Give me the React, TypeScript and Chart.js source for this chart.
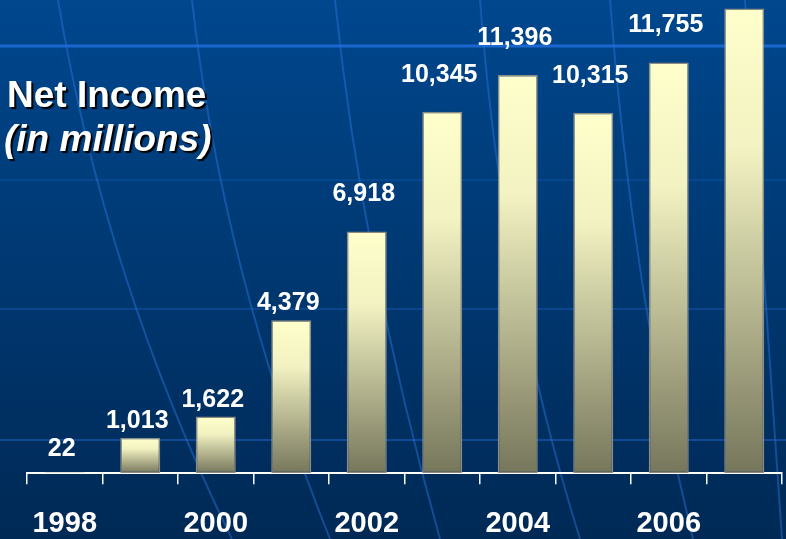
import React, { useEffect, useRef } from "react";
import { Chart, registerables } from "chart.js";

Chart.register(...registerables);

const years = ["1998", "1999", "2000", "2001", "2002", "2003", "2004", "2005", "2006", "2007"];
const netIncome = [22, 1013, 1622, 4379, 6918, 10345, 11396, 10315, 11755, 13300];
const valueLabels = ["22", "1,013", "1,622", "4,379", "6,918", "10,345", "11,396", "10,315", "11,755", ""];

const FONT = "'Liberation Sans', Arial, Helvetica, sans-serif";
const VIEW_H = 539;

const backgroundPlugin = {
  id: "slideBackground",
  beforeDraw(chart: any) {
    const { ctx, width, height } = chart;
    ctx.save();
    const g = ctx.createLinearGradient(0, 0, 0, VIEW_H);
    g.addColorStop(0, "#00478e");
    g.addColorStop(1, "#002955");
    ctx.fillStyle = g;
    ctx.fillRect(0, 0, width, height);
    const curves = [
      [58, 0, 105, 280, 232, 539],
      [192, 0, 222, 270, 330, 539],
      [335, 0, 362, 260, 440, 539],
      [480, 0, 502, 290, 580, 539],
      [610, 0, 632, 290, 693, 539],
      [745, 0, 765, 290, 782, 539],
    ];
    ctx.strokeStyle = "rgba(40,120,220,0.45)";
    ctx.lineWidth = 2;
    for (const c of curves) {
      ctx.beginPath();
      ctx.moveTo(c[0], c[1]);
      ctx.quadraticCurveTo(c[2], c[3], c[4], c[5]);
      ctx.stroke();
    }
    const hl = [
      [46, 0.85, 3],
      [180, 0.22, 2],
      [309, 0.3, 2],
      [440, 0.45, 2],
    ];
    for (const h of hl) {
      ctx.strokeStyle = `rgba(30,110,220,${h[1]})`;
      ctx.lineWidth = h[2];
      ctx.beginPath();
      ctx.moveTo(0, h[0]);
      ctx.lineTo(width, h[0]);
      ctx.stroke();
    }
    ctx.restore();
  },
};

const labelPlugin = {
  id: "valueLabels",
  afterDatasetsDraw(chart: any) {
    const { ctx } = chart;
    const meta = chart.getDatasetMeta(0);
    ctx.save();
    ctx.font = `bold 25px ${FONT}`;
    ctx.fillStyle = "#ffffff";
    ctx.textAlign = "center";
    ctx.textBaseline = "alphabetic";
    meta.data.forEach((bar: any, i: number) => {
      const txt = valueLabels[i];
      if (!txt) return;
      const gap = netIncome[i] > 5000 ? 30 : netIncome[i] < 500 ? 16 : 10;
      ctx.fillText(txt, bar.x - 3, bar.y - gap);
    });
    ctx.restore();
  },
};

export default function App() {
  const canvasRef = useRef<HTMLCanvasElement | null>(null);

  useEffect(() => {
    if (!canvasRef.current) return;
    const chart = new Chart(canvasRef.current, {
      type: "bar",
      data: {
        labels: years,
        datasets: [
          {
            data: netIncome,
            backgroundColor: (context: any) => {
              const ch = context.chart;
              const area = ch.chartArea;
              if (!area || !ch.scales || !ch.scales.y) return "#e8e8b8";
              const v = netIncome[context.dataIndex] ?? 0;
              const top = ch.scales.y.getPixelForValue(v);
              const bottom = ch.scales.y.getPixelForValue(0);
              if (!isFinite(top) || bottom - top < 1) return "#b0b090";
              const g = ch.ctx.createLinearGradient(0, top, 0, bottom);
              g.addColorStop(0, "#ffffcc");
              g.addColorStop(0.3, "#f2f2c2");
              g.addColorStop(1, "#76765c");
              return g;
            },
            borderColor: "#8c8c84",
            borderWidth: 1.5,
            borderSkipped: false,
            barPercentage: 0.53,
            categoryPercentage: 1,
          },
        ],
      },
      options: {
        animation: false,
        responsive: false,
        maintainAspectRatio: false,
        layout: { padding: { left: 27, right: 4, top: 0, bottom: 0 } },
        plugins: {
          legend: { display: false },
          tooltip: { enabled: false },
          title: { display: false },
        },
        scales: {
          y: {
            display: false,
            min: 0,
            max: 13540,
          },
          x: {
            grid: {
              offset: true,
              drawOnChartArea: false,
              drawTicks: true,
              tickLength: 11,
              color: "#ffffff",
              lineWidth: 1.5,
            },
            border: { display: true, color: "#ffffff", width: 2 },
            ticks: {
              autoSkip: false,
              maxRotation: 0,
              padding: 22,
              color: "#ffffff",
              font: { family: FONT, size: 29, weight: "bold", lineHeight: 1.2 },
              callback: (_v: any, i: number) => (i % 2 === 0 ? years[i] : ""),
            },
          },
        },
      },
      plugins: [backgroundPlugin, labelPlugin],
    });
    return () => chart.destroy();
  }, []);

  const shadow = "2px 2px 1px #000000";
  return (
    <div style={{ position: "fixed", left: 0, top: 0, width: 786, height: VIEW_H, overflow: "hidden" }}>
      <canvas ref={canvasRef} width={786} height={563} style={{ display: "block" }} />
      <div
        style={{
          position: "absolute",
          left: 7,
          top: 73,
          color: "#ffffff",
          fontFamily: FONT,
          fontWeight: "bold",
          fontSize: 37,
          lineHeight: "44px",
          textShadow: shadow,
          whiteSpace: "nowrap",
        }}
      >
        <div>Net Income</div>
        <div style={{ fontStyle: "italic", marginLeft: -3 }}>(in millions)</div>
      </div>
    </div>
  );
}
